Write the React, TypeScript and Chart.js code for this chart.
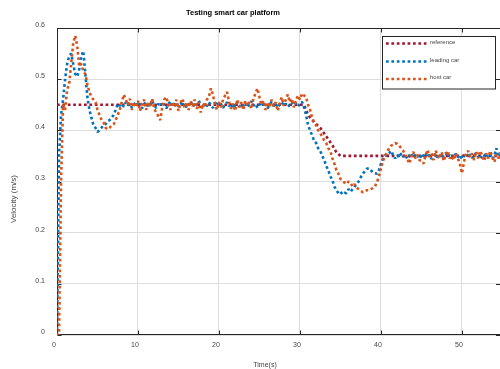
import React, { useEffect, useRef } from "react";
import { Chart, registerables } from "chart.js";

Chart.register(...registerables);

const TITLE = "Testing smart car platform";
const X_TITLE = "Time(s)";
const Y_TITLE = "Velocity (m/s)";
const SERIES_LABELS = ["reference", "leading car", "host car"];
const SERIES_COLORS = ["#A2142F", "#0072BD", "#D95319"];

// sample period of the measured series (s)
const SAMPLE_STEP = 0.25;

const REF_TIME = [0, 30.5, 31, 31.5, 32.5, 33.3, 34, 34.5, 35, 55];
const REF_VALUE = [0.45, 0.45, 0.43, 0.42, 0.405, 0.387, 0.371, 0.357, 0.35, 0.35];

const LEADING_CAR = [
  // 0 .. 8
  0, 0.35, 0.43, 0.46, 0.5, 0.53, 0.545, 0.55, 0.53, 0.51,
  0.505, 0.52, 0.545, 0.555, 0.51, 0.465, 0.44, 0.425, 0.41, 0.405,
  0.397, 0.4, 0.405, 0.41, 0.412, 0.418, 0.42, 0.425, 0.43, 0.44,
  0.452, 0.448, 0.452,
  // 8.25 .. 30.5
  0.446, 0.455, 0.449, 0.452, 0.444, 0.45, 0.456, 0.447, 0.452, 0.443,
  0.451, 0.455, 0.446, 0.45, 0.458, 0.449, 0.444, 0.452, 0.447, 0.455,
  0.45, 0.443, 0.451, 0.457, 0.448, 0.452, 0.445, 0.45, 0.455, 0.447,
  0.453, 0.444, 0.45, 0.456, 0.446, 0.451, 0.448, 0.458, 0.45, 0.443,
  0.452, 0.447, 0.455, 0.449, 0.444, 0.451, 0.457, 0.448, 0.452, 0.444,
  0.45, 0.455, 0.447, 0.452, 0.443, 0.45, 0.456, 0.446, 0.451, 0.448,
  0.454, 0.445, 0.451, 0.457, 0.448, 0.452, 0.444, 0.45, 0.455, 0.447,
  0.451, 0.443, 0.45, 0.456, 0.447, 0.452, 0.445, 0.451, 0.455, 0.448,
  0.452, 0.446, 0.45, 0.455, 0.449, 0.453, 0.447, 0.452, 0.456, 0.445,
  // 30.75 .. 41.5
  0.43, 0.41, 0.4, 0.39, 0.38, 0.375, 0.365, 0.36, 0.35, 0.342,
  0.33, 0.322, 0.31, 0.303, 0.29, 0.283, 0.277, 0.28, 0.275, 0.278,
  0.277, 0.285, 0.28, 0.285, 0.29, 0.295, 0.3, 0.308, 0.315, 0.32,
  0.325, 0.326, 0.322, 0.318, 0.316, 0.315, 0.322, 0.335, 0.345, 0.35,
  0.355, 0.355, 0.36, 0.352,
  // 41.75 .. 55
  0.345, 0.352, 0.347, 0.355, 0.348, 0.352, 0.344, 0.35, 0.355, 0.346,
  0.352, 0.348, 0.354, 0.345, 0.351, 0.356, 0.347, 0.352, 0.344, 0.35,
  0.355, 0.347, 0.352, 0.345, 0.351, 0.356, 0.348, 0.352, 0.345, 0.35,
  0.354, 0.347, 0.352, 0.344, 0.35, 0.355, 0.347, 0.353, 0.346, 0.351,
  0.356, 0.348, 0.352, 0.345, 0.35, 0.355, 0.347, 0.352, 0.344, 0.35,
  0.365, 0.348, 0.352, 0.347,
];

const HOST_CAR = [
  // 0 .. 8.75
  0, 0, 0.3, 0.45, 0.44, 0.48, 0.49, 0.53, 0.57, 0.585,
  0.565, 0.525, 0.53, 0.515, 0.51, 0.49, 0.475, 0.465, 0.46, 0.455,
  0.44, 0.43, 0.42, 0.415, 0.405, 0.402, 0.405, 0.41, 0.412, 0.42,
  0.43, 0.44, 0.455, 0.47, 0.46, 0.45,
  // 9 .. 30.5
  0.462, 0.44, 0.455, 0.445, 0.458, 0.438, 0.452, 0.46, 0.44, 0.455,
  0.447, 0.462, 0.442, 0.435, 0.428, 0.42, 0.445, 0.46, 0.465, 0.45,
  0.44, 0.456, 0.445, 0.46, 0.438, 0.452, 0.462, 0.444, 0.455, 0.44,
  0.458, 0.447, 0.46, 0.442, 0.455, 0.435, 0.452, 0.445, 0.46, 0.465,
  0.482, 0.47, 0.45, 0.44, 0.455, 0.445, 0.46, 0.468, 0.475, 0.455,
  0.442, 0.452, 0.438, 0.46, 0.445, 0.455, 0.44, 0.458, 0.448, 0.455,
  0.442, 0.462, 0.472, 0.482, 0.465, 0.45, 0.458, 0.44, 0.455, 0.445,
  0.46, 0.448, 0.455, 0.438, 0.452, 0.465, 0.448, 0.46, 0.47, 0.455,
  0.462, 0.445, 0.458, 0.468, 0.46, 0.472, 0.468,
  // 30.75 .. 42.5
  0.465, 0.45, 0.44, 0.425, 0.415, 0.41, 0.4, 0.394, 0.388, 0.38,
  0.375, 0.365, 0.36, 0.345, 0.335, 0.322, 0.315, 0.305, 0.3, 0.298,
  0.295, 0.3, 0.297, 0.29, 0.295, 0.288, 0.285, 0.282, 0.279, 0.28,
  0.283, 0.283, 0.285, 0.287, 0.29, 0.298, 0.31, 0.325, 0.34, 0.35,
  0.357, 0.365, 0.37, 0.372, 0.375, 0.374, 0.37, 0.365,
  // 42.75 .. 55
  0.36, 0.352, 0.345, 0.335, 0.348, 0.358, 0.345, 0.352, 0.342, 0.34,
  0.335, 0.35, 0.362, 0.348, 0.355, 0.342, 0.36, 0.35, 0.345, 0.358,
  0.34, 0.352, 0.36, 0.345, 0.35, 0.342, 0.355, 0.345, 0.335, 0.316,
  0.338, 0.355, 0.36, 0.348, 0.355, 0.342, 0.358, 0.345, 0.36, 0.35,
  0.34, 0.355, 0.345, 0.36, 0.348, 0.338, 0.352, 0.345, 0.357, 0.35,
];

const X_MIN = 0;
const X_MAX = 54.7;
const Y_MIN = 0;
const Y_MAX = 0.6;
const X_STEP = 10;
const Y_STEP = 0.1;

const FONT = "'Liberation Sans', Arial, Helvetica, sans-serif";
const AXIS_COLOR = "#262626";
const TEXT_COLOR = "#444444";

const toPoints = (vals: number[]) => vals.map((y, i) => ({ x: i * SAMPLE_STEP, y }));

const decorPlugin = {
  id: "decor",
  beforeDatasetsDraw(chart: any) {
    const { ctx, chartArea } = chart;
    const { left, right, top, bottom } = chartArea;
    const L = Math.round(left) + 0.5;
    const B = Math.round(bottom) - 0.5;
    const T = Math.round(top) + 0.5;
    const R = Math.round(right) - 0.5;
    ctx.save();
    ctx.strokeStyle = AXIS_COLOR;
    ctx.lineWidth = 1;
    ctx.beginPath();
    ctx.moveTo(L, T);
    ctx.lineTo(R + 0.5, T);
    ctx.moveTo(L, T);
    ctx.lineTo(L, B);
    ctx.lineTo(R + 0.5, B);
    ctx.stroke();
    // inward ticks
    const tl = 4;
    const xs = chart.scales.x;
    const ys = chart.scales.y;
    ctx.beginPath();
    xs.ticks.forEach((t: any) => {
      const px = Math.round(xs.getPixelForValue(t.value)) + 0.5;
      ctx.moveTo(px, B);
      ctx.lineTo(px, B - tl);
      ctx.moveTo(px, T);
      ctx.lineTo(px, T + tl);
    });
    ys.ticks.forEach((t: any) => {
      const py = Math.round(ys.getPixelForValue(t.value)) + 0.5;
      ctx.moveTo(L, py);
      ctx.lineTo(L + tl, py);
      ctx.moveTo(R + 0.5, py);
      ctx.lineTo(R + 0.5 - tl, py);
    });
    ctx.stroke();
    ctx.restore();
  },
  afterDatasetsDraw(chart: any) {
    const { ctx } = chart;
    ctx.save();
    // title
    ctx.fillStyle = "#000000";
    ctx.font = `bold 7.5px ${FONT}`;
    ctx.textAlign = "center";
    ctx.textBaseline = "middle";
    ctx.fillText(TITLE, 233, 13);
    // x title
    ctx.fillStyle = TEXT_COLOR;
    ctx.font = `7px ${FONT}`;
    ctx.fillText(X_TITLE, 265, 365);
    // y title
    ctx.save();
    ctx.translate(14, 199);
    ctx.rotate(-Math.PI / 2);
    ctx.font = `8px ${FONT}`;
    ctx.fillText(Y_TITLE, 0, 0);
    ctx.restore();
    // legend
    const bx = 382.5, by = 36.5, bw = 113, bh = 52.5;
    ctx.fillStyle = "#ffffff";
    ctx.fillRect(bx, by, bw, bh);
    ctx.strokeStyle = AXIS_COLOR;
    ctx.lineWidth = 1;
    ctx.strokeRect(bx, by, bw, bh);
    const rows = [43.5, 61.5, 79];
    chart.data.datasets.forEach((ds: any, i: number) => {
      const y = rows[i];
      ctx.strokeStyle = ds.borderColor;
      ctx.lineWidth = ds.borderWidth;
      ctx.setLineDash(ds.borderDash);
      ctx.beginPath();
      ctx.moveTo(386, y);
      ctx.lineTo(428, y);
      ctx.stroke();
      ctx.setLineDash([]);
      ctx.fillStyle = TEXT_COLOR;
      ctx.font = `6px ${FONT}`;
      ctx.textAlign = "left";
      ctx.textBaseline = "middle";
      ctx.fillText(ds.label, 430, y - 1.5);
    });
    ctx.restore();
  },
};

export default function App() {
  const ref = useRef<HTMLCanvasElement>(null);
  useEffect(() => {
    if (!ref.current) return;
    const lineStyle = {
      borderWidth: 2.6,
      borderDash: [2.7, 2.7],
      borderCapStyle: "butt" as const,
      borderJoinStyle: "bevel" as const,
      pointRadius: 0,
      fill: false,
      tension: 0,
    };
    const chart = new Chart(ref.current, {
      type: "line",
      data: {
        datasets: [
          {
            label: SERIES_LABELS[0],
            data: REF_TIME.map((x, i) => ({ x, y: REF_VALUE[i] })),
            borderColor: SERIES_COLORS[0],
            order: 3,
            ...lineStyle,
          },
          {
            label: SERIES_LABELS[1],
            data: toPoints(LEADING_CAR),
            borderColor: SERIES_COLORS[1],
            order: 2,
            ...lineStyle,
          },
          {
            label: SERIES_LABELS[2],
            data: toPoints(HOST_CAR),
            borderColor: SERIES_COLORS[2],
            order: 1,
            ...lineStyle,
          },
        ],
      },
      options: {
        animation: false,
        responsive: false,
        devicePixelRatio: 1,
        layout: { padding: { top: 28, right: 0, left: 0, bottom: 0 } },
        plugins: {
          legend: { display: false },
          title: { display: false },
          tooltip: { enabled: false },
        },
        scales: {
          x: {
            type: "linear",
            min: X_MIN,
            max: X_MAX,
            afterFit: (s: any) => {
              s.height = 34;
            },
            ticks: {
              stepSize: X_STEP,
              includeBounds: false,
              autoSkip: false,
              maxRotation: 0,
              padding: 6,
              labelOffset: -3,
              color: TEXT_COLOR,
              font: { family: FONT, size: 7 },
              callback: (v: any) => String(v),
            },
            grid: { color: "#dedede", drawTicks: false, lineWidth: 1 },
            border: { display: false },
          },
          y: {
            type: "linear",
            min: Y_MIN,
            max: Y_MAX,
            afterFit: (s: any) => {
              s.width = 57;
            },
            ticks: {
              stepSize: Y_STEP,
              includeBounds: false,
              autoSkip: false,
              padding: 12,
              labelOffset: -3,
              color: TEXT_COLOR,
              font: { family: FONT, size: 7 },
              callback: (v: any) => (v === 0 ? "0" : Number(v).toFixed(1)),
            },
            grid: { color: "#dedede", drawTicks: false, lineWidth: 1 },
            border: { display: false },
          },
        },
      },
      plugins: [decorPlugin],
    });
    return () => chart.destroy();
  }, []);
  return (
    <div style={{ position: "fixed", left: 0, top: 0, width: 500, height: 369, background: "#ffffff" }}>
      <canvas ref={ref} width={500} height={369} style={{ display: "block" }} />
    </div>
  );
}
